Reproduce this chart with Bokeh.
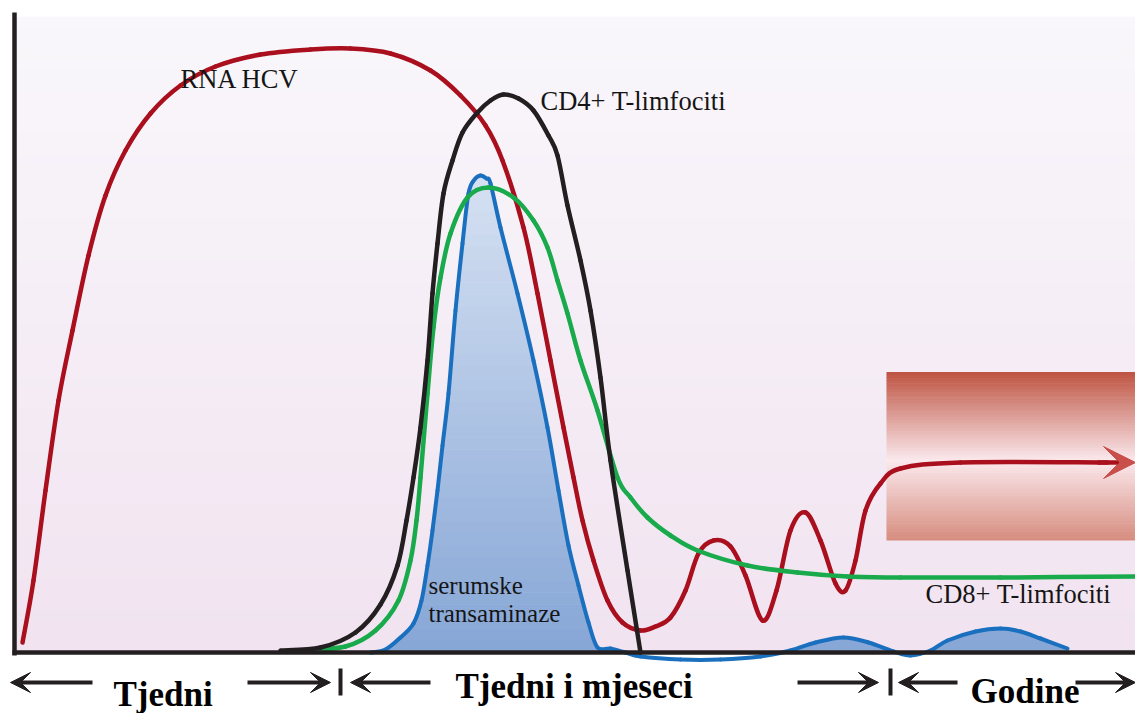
import numpy as np
from bokeh.plotting import figure
from bokeh.models import Range1d, Arrow, VeeHead
from bokeh.core.properties import value
from bokeh.embed import file_html
from bokeh.resources import INLINE

# ---------------- data (schematic time units / relative level) ----------------
rna_x = [0.8, 1.9, 3.1, 4.4, 5.8, 7.4, 9.1, 11.1, 13.6, 16.6, 20.1, 24.6, 29.6, 33.6, 37.6,
         41.6, 44.6, 47.1, 48.8, 50.9, 52.3, 53.6, 54.9, 55.9, 56.8, 57.9, 59.3, 60.8, 62.6,
         64.1, 65.6, 67.1, 68.4, 69.9, 71.6, 73.1, 74.8, 76.2, 77.6, 79.1, 80.6, 82.1, 83.1,
         84.1, 85.1, 86.6, 88.6, 94.6, 109.3]
rna_y = [1.0, 7.2, 16.2, 25.2, 32.2, 39.7, 45.7, 50.2, 53.9, 56.7, 58.6, 59.8, 60.3, 60.4, 59.9,
         58.2, 55.7, 52.7, 49.2, 42.5, 35.9, 29.2, 22.5, 17.5, 13.2, 9.2, 5.2, 3.0, 2.2,
         2.6, 3.5, 6.2, 9.9, 11.2, 10.6, 7.7, 3.2, 6.2, 12.2, 14.0, 11.2, 6.9, 6.2,
         9.2, 14.2, 16.9, 18.4, 19.0, 19.0]

cd4_x = [26.6, 30.6, 34.1, 36.6, 38.3, 39.2, 39.9, 40.6, 41.3, 41.8, 42.3, 42.9, 43.8, 44.8,
         46.3, 47.6, 48.9, 50.4, 51.9, 53.4, 54.3, 55.3, 56.6, 57.6, 58.6, 59.6, 61.3, 62.6]
cd4_y = [0.2, 0.5, 2.0, 4.8, 8.7, 13.2, 17.5, 22.5, 29.2, 35.9, 40.9, 45.9, 49.2, 52.0,
         54.0, 55.2, 55.8, 55.4, 54.2, 51.7, 49.7, 44.7, 39.2, 34.2, 27.5, 19.2, 8.2, 0.0]

cd8_x = [28.6, 33.1, 36.1, 38.4, 39.6, 40.2, 40.6, 41.3, 41.9, 42.6, 43.6, 45.3, 47.4, 49.9,
         51.9, 53.3, 54.3, 55.3, 56.6, 58.3, 60.3, 61.6, 63.3, 65.6, 68.3, 73.3, 78.3, 83.3,
         88.6, 98.6, 112.1]
cd8_y = [0.2, 0.6, 2.2, 5.2, 9.2, 13.2, 17.5, 25.9, 32.5, 37.5, 41.9, 45.5, 46.5, 45.5,
         43.2, 40.5, 37.2, 33.9, 29.2, 24.2, 17.5, 15.5, 13.5, 11.7, 10.2, 8.7, 8.0, 7.6,
         7.5, 7.5, 7.6]

alt_x = [35.6, 37.1, 38.6, 39.9, 40.7, 41.3, 41.8, 42.3, 42.8, 43.4, 44.1, 44.8, 45.4, 46.0,
         46.6, 47.2, 47.6, 48.6, 50.3, 51.9, 53.3, 54.4, 55.4, 56.4, 57.4, 58.3, 59.6, 61.1,
         62.6, 66.6, 70.6, 74.6, 77.6, 80.1, 82.9, 85.4, 87.9, 89.6, 91.6, 93.3, 96.1, 98.6,
         100.6, 102.6, 105.3]
alt_y = [0.0, 0.3, 1.5, 2.9, 5.2, 8.7, 12.2, 16.2, 20.7, 25.9, 34.2, 40.9, 45.9, 47.3,
         47.7, 47.4, 46.9, 42.5, 35.9, 29.2, 22.5, 16.2, 10.7, 6.7, 3.0, 0.5, 0.4, 0.0,
         -0.4, -0.7, -0.7, -0.4, 0.2, 1.0, 1.5, 1.0, 0.1, -0.3, 0.2, 1.2, 2.1, 2.4,
         2.1, 1.4, 0.4]

chronic_x = [87.2, 112.1]
chronic_y = [11.2, 28.0]

label_text = ["RNA HCV", "CD4+ T-limfociti", "CD8+ T-limfociti"]
label_x = [16.6, 52.6, 91.1]
label_y = [57.4, 55.2, 5.9]
alt_label = ["serumske", "transaminaze"]
alt_label_x = [41.4, 41.4]
alt_label_y = [6.7, 3.9]

period_text = ["Tjedni", "Tjedni i mjeseci", "Godine"]
period_x = [9.9, 44.1, 95.6]
period_y = [-4.2, -3.4, -3.9]
period_bounds = [32.6, 87.6]
arrow_segments = [(7.8, -0.4), (23.3, 31.6), (41.6, 33.6), (78.3, 86.4), (94.3, 88.4), (106.1, 112.1)]
arrow_level = -3.0

X_MAX = 112.1
Y_TOP = 63.5

# ---------------- figure ----------------
p = figure(width=1135, height=713, x_range=Range1d(-1.4, 112.1), y_range=Range1d(-6.1, 65.2),
           output_backend="svg", toolbar_location=None, x_axis_location=None,
           y_axis_location=None, min_border=0)
p.grid.visible = False
p.outline_line_color = None
p.background_fill_color = "white"
p.border_fill_color = "white"


def lerp_color(stops, t):
    for (p0, c0), (p1, c1) in zip(stops[:-1], stops[1:]):
        if p0 <= t <= p1:
            f = (t - p0) / (p1 - p0) if p1 > p0 else 0
            c = [int(round(a + f * (b - a))) for a, b in zip(c0, c1)]
            return "#%02x%02x%02x" % tuple(c)
    c = stops[-1][1] if t > stops[-1][0] else stops[0][1]
    return "#%02x%02x%02x" % tuple(c)


def smooth_segments(xs, ys):
    """Catmull-Rom -> cubic Bezier control points through the given points."""
    P = list(zip(xs, ys))
    ext = [P[0]] + P + [P[-1]]
    out = {k: [] for k in ("x0", "y0", "x1", "y1", "cx0", "cy0", "cx1", "cy1")}
    for i in range(len(P) - 1):
        a, b, c, d = ext[i], ext[i + 1], ext[i + 2], ext[i + 3]
        out["x0"].append(b[0]); out["y0"].append(b[1])
        out["x1"].append(c[0]); out["y1"].append(c[1])
        out["cx0"].append(b[0] + (c[0] - a[0]) / 6); out["cy0"].append(b[1] + (c[1] - a[1]) / 6)
        out["cx1"].append(c[0] - (d[0] - b[0]) / 6); out["cy1"].append(c[1] - (d[1] - b[1]) / 6)
    return out


def bezier_outline(seg, n=14):
    pts = []
    t = np.linspace(0, 1, n)
    for i in range(len(seg["x0"])):
        bx = ((1 - t) ** 3 * seg["x0"][i] + 3 * (1 - t) ** 2 * t * seg["cx0"][i]
              + 3 * (1 - t) * t ** 2 * seg["cx1"][i] + t ** 3 * seg["x1"][i])
        by = ((1 - t) ** 3 * seg["y0"][i] + 3 * (1 - t) ** 2 * t * seg["cy0"][i]
              + 3 * (1 - t) * t ** 2 * seg["cy1"][i] + t ** 3 * seg["y1"][i])
        start = 0 if i == 0 else 1
        pts.extend(zip(bx[start:], by[start:]))
    return pts


def draw_curve(xs, ys, color, width):
    seg = smooth_segments(xs, ys)
    p.bezier(line_color=color, line_width=width, line_cap="round", **seg)
    return seg


# background gradient
nb = 60
edges = np.linspace(0, Y_TOP, nb + 1)
bg_stops = [(0.0, (241, 227, 240)), (Y_TOP, (249, 247, 251))]
p.quad(left=[0] * nb, right=[X_MAX] * nb, bottom=list(edges[:-1]), top=list(edges[1:] + 0.08),
       fill_color=[lerp_color(bg_stops, (a + b) / 2) for a, b in zip(edges[:-1], edges[1:])],
       line_color=None)

# chronic-phase box gradient
nr = 60
redges = np.linspace(chronic_y[0], chronic_y[1], nr + 1)
box_stops = [(chronic_y[0], (214, 140, 126)), (19.2, (251, 233, 237)), (chronic_y[1], (190, 84, 66))]
p.quad(left=[chronic_x[0]] * nr, right=[chronic_x[1]] * nr, bottom=list(redges[:-1]),
       top=list(redges[1:] + 0.05),
       fill_color=[lerp_color(box_stops, (a + b) / 2) for a, b in zip(redges[:-1], redges[1:])],
       line_color=None)


def clip_half(poly, keep, yc):
    out = []
    n = len(poly)
    for i in range(n):
        cur = poly[i]
        prev = poly[i - 1]
        if keep(cur):
            if not keep(prev):
                t = (yc - prev[1]) / (cur[1] - prev[1])
                out.append((prev[0] + t * (cur[0] - prev[0]), yc))
            out.append(cur)
        elif keep(prev):
            t = (yc - prev[1]) / (cur[1] - prev[1])
            out.append((prev[0] + t * (cur[0] - prev[0]), yc))
    return out


# blue (serum transaminase) fill with vertical gradient
alt_seg = smooth_segments(alt_x, alt_y)
outline = bezier_outline(alt_seg)
base = [(alt_x[0], 0.0)] + [(x, max(y, 0.0)) for x, y in outline] + [(alt_x[-1], 0.0)]
top_level = max(y for _, y in outline)
nbb = 40
bedges = np.linspace(0, top_level, nbb + 1)
blue_stops = [(0.0, (134, 166, 214)), (top_level, (214, 225, 242))]
bxs, bys, bcols = [], [], []
for lo, hi in zip(bedges[:-1], bedges[1:]):
    poly = clip_half(base, lambda q, lo=lo: q[1] >= lo, lo)
    if len(poly) < 3:
        continue
    hh = hi + 0.06
    poly = clip_half(poly, lambda q, hh=hh: q[1] <= hh, hh)
    if len(poly) < 3:
        continue
    bxs.append([q[0] for q in poly])
    bys.append([q[1] for q in poly])
    bcols.append(lerp_color(blue_stops, (lo + hi) / 2))
p.patches(xs=bxs, ys=bys, fill_color=bcols, line_color=None)

# curves
p.bezier(line_color="#1a70bf", line_width=4, line_cap="round", **alt_seg)
draw_curve(rna_x, rna_y, "#aa0f1e", 4.5)
p.add_layout(Arrow(end=VeeHead(size=32, fill_color="#c94f4b", line_color="#c94f4b", line_width=1),
                   x_start=rna_x[-1] - 1.0, y_start=rna_y[-1], x_end=X_MAX, y_end=rna_y[-1],
                   line_color="#aa0f1e", line_width=4.5))
draw_curve(cd8_x, cd8_y, "#19aa4b", 4.5)
draw_curve(cd4_x, cd4_y, "#231f20", 4.5)

# axes lines
p.line([0, 0], [64.0, -0.3], line_color="#231f20", line_width=4.5)
p.line([-0.2, X_MAX], [0, 0], line_color="#231f20", line_width=4.5)

# labels
p.text(x=label_x, y=label_y, text=label_text, text_font=value("Liberation Serif"),
       text_font_size="26.5px", text_baseline="alphabetic", text_align="left", text_color="#151515")
p.text(x=alt_label_x, y=alt_label_y, text=alt_label, text_font=value("Liberation Serif"),
       text_font_size="25px", text_baseline="alphabetic", text_align="left", text_color="#151515")

# period arrows
for xs, xe in arrow_segments:
    p.add_layout(Arrow(end=VeeHead(size=20, fill_color="#231f20", line_color="#231f20", line_width=1),
                       x_start=xs, y_start=arrow_level, x_end=xe, y_end=arrow_level,
                       line_color="#231f20", line_width=4))
p.segment(x0=period_bounds, y0=[-1.6] * len(period_bounds), x1=period_bounds,
          y1=[-4.3] * len(period_bounds), line_color="#231f20", line_width=4)

p.text(x=period_x, y=period_y, text=period_text, text_font=value("Liberation Serif"),
       text_font_size="35px", text_font_style="bold", text_baseline="alphabetic",
       text_align="left", text_color="black")

open("out.html", "w").write(file_html(p, INLINE))
